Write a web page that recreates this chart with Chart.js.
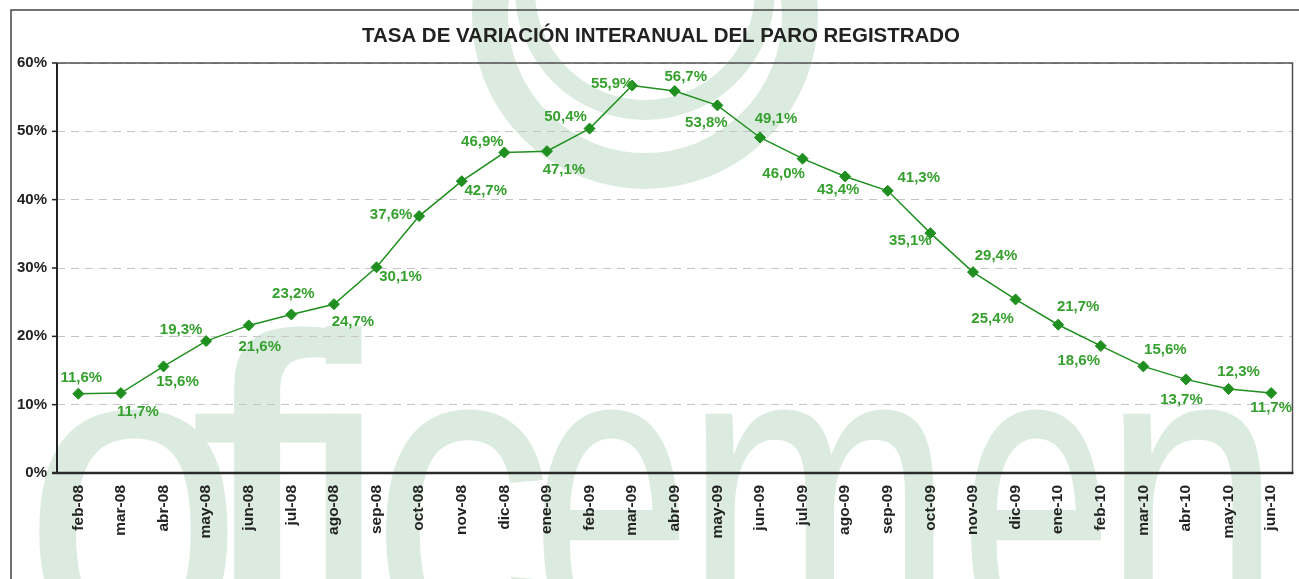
<!DOCTYPE html>
<html>
<head>
<meta charset="utf-8">
<script src="https://cdn.jsdelivr.net/npm/chart.js@4/dist/chart.umd.min.js"></script>
<style>
  html, body { margin: 0; padding: 0; background: #ffffff; }
  #wrap { width: 1299px; height: 579px; }
</style>
</head>
<body>
<div id="wrap"><canvas id="c" width="1299" height="579"></canvas></div>
<script>
// ---------- DATA ----------
const categories = ['feb-08','mar-08','abr-08','may-08','jun-08','jul-08','ago-08','sep-08','oct-08','nov-08','dic-08',
  'ene-09','feb-09','mar-09','abr-09','may-09','jun-09','jul-09','ago-09','sep-09','oct-09','nov-09','dic-09',
  'ene-10','feb-10','mar-10','abr-10','may-10','jun-10'];
const values = [11.6, 11.7, 15.6, 19.3, 21.6, 23.2, 24.7, 30.1, 37.6, 42.7, 46.9,
  47.1, 50.4, 56.7, 55.9, 53.8, 49.1, 46.0, 43.4, 41.3, 35.1, 29.4, 25.4,
  21.7, 18.6, 15.6, 13.7, 12.3, 11.7];
const pointLabels = ['11,6%','11,7%','15,6%','19,3%','21,6%','23,2%','24,7%','30,1%','37,6%','42,7%','46,9%',
  '47,1%','50,4%','55,9%','56,7%','53,8%','49,1%','46,0%','43,4%','41,3%','35,1%','29,4%','25,4%',
  '21,7%','18,6%','15,6%','13,7%','12,3%','11,7%'];
const yTickValues = [0, 10, 20, 30, 40, 50, 60];
const titleText = 'TASA DE VARIACIÓN INTERANUAL DEL PARO REGISTRADO';
const watermarkText = 'oficemen';

// ---------- STYLE ----------
const FONT = '"Liberation Sans", Arial, Helvetica, sans-serif';
const lineColor = '#1f8f1f';
const labelColor = '#35a02d';
const wmColor = '#dbebe0';
// label offsets (dx, dy) relative to each point, as placed in the original chart
const labelOffsets = [[3,-17],[17,18],[14,14],[-25,-12],[11,20],[2,-22],[19,17],[24,9],[-28,-2],[24,9],[-22,-12],
  [17,18],[-24,-13],[-20,-3],[11,-15],[-11,16],[16,-20],[-19,14],[-7,12],[31,-14],[-20,7],[23,-17],[-23,18],
  [20,-19],[-22,14],[22,-18],[-4.5,19],[10,-18],[0,14]];
// watermark glyph extents (left, right)
const wmExtents = [[35,228],[188,335],[324,362],[382,548],[540,680],[704,938],[968,1102],[1122,1264]];

const backgroundPlugin = {
  id: 'backgroundPlugin',
  beforeDraw(chart) {
    const ctx = chart.ctx;
    ctx.save();
    ctx.fillStyle = '#ffffff';
    ctx.fillRect(0, 0, chart.width, chart.height);
    // logo rings
    ctx.strokeStyle = wmColor;
    ctx.lineWidth = 36;
    ctx.beginPath(); ctx.arc(645, 16, 155, 0, Math.PI * 2); ctx.stroke();
    ctx.lineWidth = 20;
    ctx.beginPath(); ctx.arc(645, -10, 120, 0, Math.PI * 2); ctx.stroke();
    // watermark word
    ctx.fillStyle = wmColor;
    ctx.font = '447px ' + FONT;
    ctx.textBaseline = 'alphabetic';
    ctx.textAlign = 'left';
    const chars = watermarkText.split('');
    chars.forEach((ch, i) => {
      const m = ctx.measureText(ch);
      const gl = m.actualBoundingBoxLeft, gr = m.actualBoundingBoxRight;
      const w = gl + gr;
      const [l, r] = wmExtents[i];
      const sx = (r - l) / w;
      ctx.save();
      ctx.translate(l, 650);
      ctx.scale(sx, 1);
      ctx.fillText(ch, gl, 0);
      ctx.restore();
    });
    // outer frame
    ctx.strokeStyle = '#444444';
    ctx.lineWidth = 1.5;
    ctx.strokeRect(11, 10, 1400, 700);
    // title
    ctx.fillStyle = '#222222';
    ctx.font = 'bold 21px ' + FONT;
    ctx.textAlign = 'center';
    ctx.textBaseline = 'alphabetic';
    const tw = ctx.measureText(titleText).width;
    const sx = Math.min(1, 598 / tw);
    ctx.save();
    ctx.translate(661, 42);
    ctx.scale(sx, 1);
    ctx.fillText(titleText, 0, 0);
    ctx.restore();
    ctx.restore();
  }
};

const axesPlugin = {
  id: 'axesPlugin',
  beforeDatasetsDraw(chart) {
    const ctx = chart.ctx;
    const a = chart.chartArea;
    const ys = chart.scales.y;
    ctx.save();
    ctx.strokeStyle = '#505050';
    ctx.lineWidth = 1.5;
    ctx.beginPath();
    ctx.moveTo(a.left, a.top); ctx.lineTo(a.right, a.top); ctx.lineTo(a.right, a.bottom);
    ctx.stroke();
    ctx.strokeStyle = '#222222';
    ctx.lineWidth = 1.5;
    yTickValues.forEach(v => {
      const y = ys.getPixelForValue(v);
      ctx.beginPath(); ctx.moveTo(a.left - 5, y); ctx.lineTo(a.left, y); ctx.stroke();
    });
    ctx.lineWidth = 2;
    ctx.beginPath(); ctx.moveTo(a.left, a.top); ctx.lineTo(a.left, a.bottom); ctx.stroke();
    ctx.strokeStyle = '#2a2a2a';
    ctx.lineWidth = 2.5;
    ctx.beginPath(); ctx.moveTo(a.left - 5, a.bottom); ctx.lineTo(a.right + 1, a.bottom); ctx.stroke();
    ctx.restore();
  }
};

const labelsPlugin = {
  id: 'labelsPlugin',
  afterDatasetsDraw(chart) {
    const ctx = chart.ctx;
    const meta = chart.getDatasetMeta(0);
    ctx.save();
    ctx.fillStyle = labelColor;
    ctx.font = 'bold 15px ' + FONT;
    ctx.textAlign = 'center';
    ctx.textBaseline = 'middle';
    meta.data.forEach((pt, i) => {
      const [dx, dy] = labelOffsets[i];
      ctx.fillText(pointLabels[i], pt.x + dx, pt.y + dy + 1);
    });
    ctx.restore();
  }
};

new Chart(document.getElementById('c'), {
  type: 'line',
  data: {
    labels: categories,
    datasets: [{
      data: values,
      borderColor: lineColor,
      backgroundColor: lineColor,
      borderWidth: 1.5,
      pointStyle: 'rectRot',
      pointRadius: 5.5,
      pointHoverRadius: 5.5,
      pointBackgroundColor: lineColor,
      pointBorderColor: lineColor,
      pointBorderWidth: 1,
      tension: 0,
      fill: false
    }]
  },
  options: {
    responsive: false,
    devicePixelRatio: 1,
    animation: false,
    layout: { padding: { top: 63, right: 5, bottom: 0, left: 0 } },
    plugins: {
      legend: { display: false },
      title: { display: false },
      tooltip: { enabled: false }
    },
    scales: {
      x: {
        offset: true,
        grid: { display: false, drawTicks: false },
        border: { display: false },
        ticks: {
          autoSkip: false,
          minRotation: 90,
          maxRotation: 90,
          padding: 12,
          color: '#222222',
          font: { family: FONT, size: 15.5, weight: 'bold' }
        },
        afterFit(scale) {
          scale.height = 106;
          scale.paddingLeft = 0;
          scale.paddingRight = 0;
        }
      },
      y: {
        min: 0,
        max: 60,
        afterBuildTicks(scale) { scale.ticks = yTickValues.map(v => ({ value: v })); },
        grid: { color: '#c4c4c4', lineWidth: 1, drawTicks: false },
        border: { display: false, dash: [8, 6] },
        ticks: {
          padding: 10,
          color: '#222222',
          font: { family: FONT, size: 15, weight: 'bold' },
          callback: v => v + '%'
        },
        afterFit(scale) { scale.width = 57; }
      }
    }
  },
  plugins: [backgroundPlugin, axesPlugin, labelsPlugin]
});
</script>
</body>
</html>
